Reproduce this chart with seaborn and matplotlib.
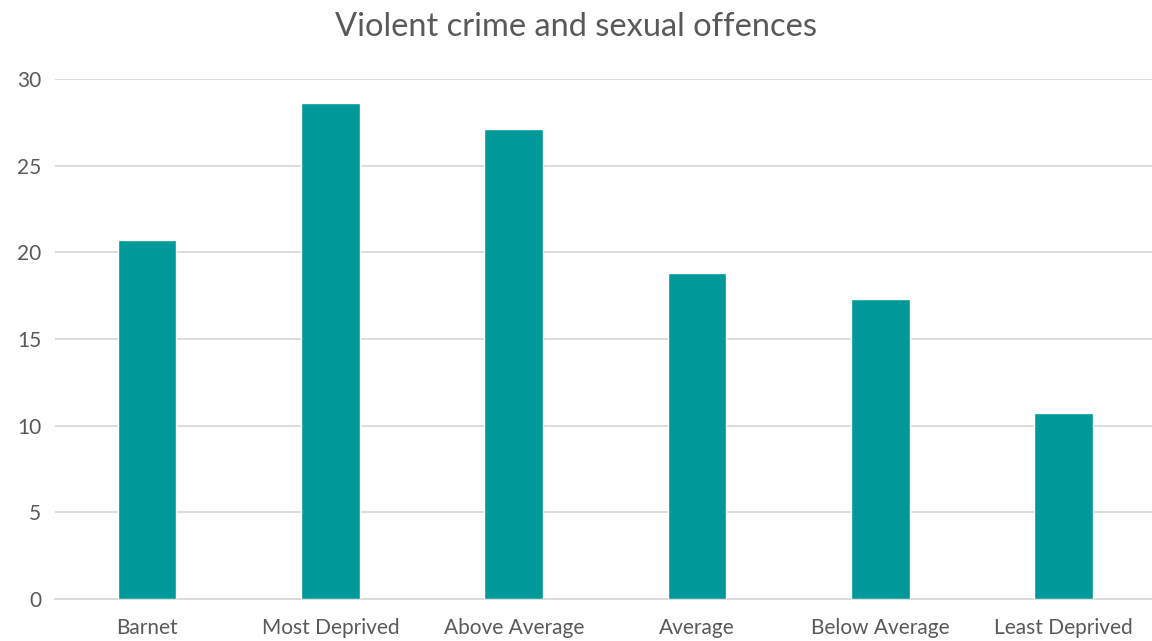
import matplotlib
matplotlib.use("Agg")
import matplotlib.pyplot as plt
import seaborn as sns
import pandas as pd

categories = ["Barnet", "Most Deprived", "Above Average", "Average", "Below Average", "Least Deprived"]
values = [20.7, 28.6, 27.1, 18.8, 17.3, 10.7]
yticks = [0, 5, 10, 15, 20, 25, 30]

df = pd.DataFrame({"category": categories, "value": values})

sns.set_theme(style="white")
plt.rcParams["font.family"] = ["Lato", "DejaVu Sans"]

fig = plt.figure(figsize=(11.52, 6.41), dpi=100)
ax = fig.add_axes([0.048, 0.0655, 0.955, 0.8115])

sns.barplot(data=df, x="category", y="value", color="#009999", width=0.32,
            saturation=1, ax=ax, zorder=3)

ax.set_ylim(0, 30)
ax.set_yticks(yticks)
ax.set_yticklabels([str(t) for t in yticks])
ax.yaxis.grid(True, color="#d9d9d9", linewidth=1.3, zorder=0)
ax.set_axisbelow(True)
for s in ["top", "right", "left"]:
    ax.spines[s].set_visible(False)
ax.spines["bottom"].set_color("#d9d9d9")
ax.spines["bottom"].set_linewidth(1.3)
ax.set_xlabel("")
ax.set_ylabel("")
ax.tick_params(axis="both", length=0, labelsize=15, colors="#595959")
ax.tick_params(axis="x", pad=14)
ax.tick_params(axis="y", pad=10)
fig.text(0.5, 0.958, "Violent crime and sexual offences", ha="center", va="center",
         fontsize=23.5, color="#595959")

fig.savefig("out.png", dpi=100, facecolor="white")
